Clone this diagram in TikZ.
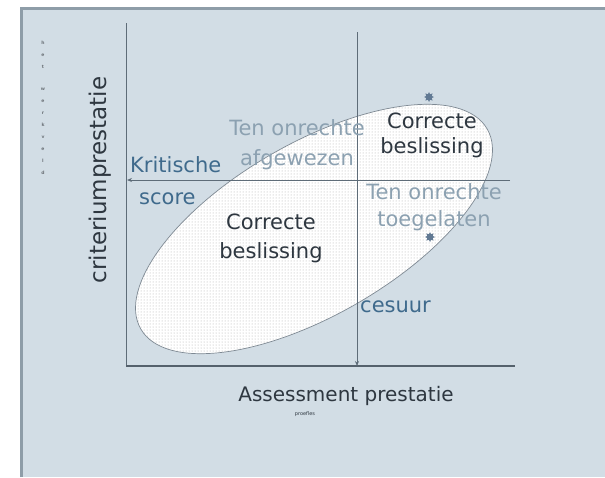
\documentclass[tikz,border=0pt]{standalone}
\usepackage{fontspec}
\setmainfont{DejaVu Sans}
\usetikzlibrary{arrows.meta,shapes.geometric,patterns}
\definecolor{bgblue}{HTML}{D2DDE5}
\definecolor{edgegray}{HTML}{8E9DA8}
\definecolor{axisgray}{HTML}{5E6C78}
\definecolor{labeldark}{HTML}{2E3740}
\definecolor{labelblue}{HTML}{3F6A8C}
\definecolor{labelpale}{HTML}{8CA1B1}
\definecolor{handleblue}{HTML}{3A5878}
\tikzset{
  bigtext/.style={font=\fontsize{20}{25}\selectfont, align=center, inner sep=0pt},
  regiontext/.style={font=\fontsize{21}{27}\selectfont, align=center, inner sep=0pt},
  axisline/.style={axisgray, line width=1pt},
  handle/.style={star, star points=8, star point ratio=1.7, fill=handleblue!80, inner sep=0pt, minimum size=10pt}
}
\begin{document}
\begin{tikzpicture}[x=1pt,y=-1pt]
	\useasboundingbox (0,0) rectangle (605,477);
	\fill[white] (0,0) rectangle (605,477);
	\fill[bgblue] (20,7) rectangle (605,477);
	\draw[edgegray,line width=3pt] (21.5,477) -- (21.5,8.5) -- (605,8.5);
	\coordinate (origin) at (126,366);
	\coordinate (ytop) at (126,23);
	\coordinate (xend) at (515,366);
	\coordinate (cestop) at (357,32);
	\coordinate (cesbot) at (357,366);
	\coordinate (kritR) at (510,180);
	\coordinate (kritL) at (127,180);
	\draw[axisgray!80, line width=0.7pt, preaction={fill=white}, pattern=dots, pattern color=gray!65, rotate around={30:(314,229)}] (314,229) ellipse [x radius=200, y radius=86];
	\draw[axisline] (ytop) -- (origin);
	\draw[axisgray!90!black, line width=1.8pt] (origin) -- (xend);
	\draw[axisline, -{Stealth[length=5pt,width=4pt]}] (cestop) -- (cesbot);
	\draw[axisline, -{Stealth[length=5pt,width=4pt]}] (kritR) -- (kritL);
	\node[handle] (handletop) at (429,97) {};
	\node[handle] (handlebot) at (430,237) {};
	\node[bigtext, labeldark, rotate=90, font=\fontsize{23}{25}\selectfont] (ylabel) at (100,180) {criteriumprestatie};
	\node[font=\bfseries\fontsize{4.5}{12}\selectfont, labeldark!70, align=center, anchor=north] (ysub) at (43,38) {h\\e\\t\\[10pt]w\\e\\r\\k\\v\\e\\l\\d};
	\node[bigtext, labeldark] (xlabel) at (346,396) {Assessment prestatie};
	\node[font=\fontsize{5}{6}\selectfont, labeldark] (xsub) at (305,414) {proefles};
	\node[regiontext, labelblue, align=left, anchor=west, font=\fontsize{21}{32}\selectfont] (krit) at (130,181) {Kritische\\\hspace*{9pt}score};
	\node[regiontext, labelpale, font=\fontsize{21}{30}\selectfont] (afgew) at (297,145) {Ten onrechte\\afgewezen};
	\node[regiontext, labeldark, font=\fontsize{21}{25}\selectfont] (corrTop) at (432,135) {Correcte\\beslissing};
	\node[regiontext, labelpale] (toegel) at (434,207) {Ten onrechte\\toegelaten};
	\node[regiontext, labeldark, font=\fontsize{21}{29}\selectfont] (corrLow) at (271,238) {Correcte\\beslissing};
	\node[regiontext, labelblue, anchor=west] (cesuur) at (360,307) {cesuur};
\end{tikzpicture}
\end{document}
